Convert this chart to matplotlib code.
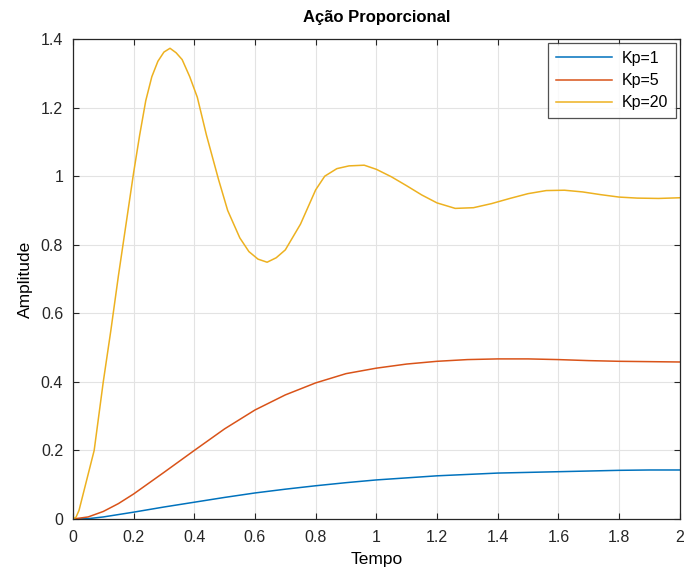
import matplotlib
matplotlib.use("Agg")
import matplotlib.pyplot as plt
from matplotlib.ticker import FuncFormatter

plt.rcParams["font.family"] = ["Liberation Sans", "DejaVu Sans"]

# step responses
t_kp1 = [0, 0.05, 0.1, 0.2, 0.3, 0.4, 0.5, 0.6, 0.7, 0.8, 0.9, 1.0,
         1.1, 1.2, 1.3, 1.4, 1.5, 1.6, 1.7, 1.8, 1.9, 2.0]
y_kp1 = [0, 0.001, 0.006, 0.02, 0.035, 0.049, 0.063, 0.076, 0.087, 0.097,
         0.106, 0.114, 0.12, 0.126, 0.13, 0.134, 0.136, 0.138, 0.14, 0.142,
         0.143, 0.143]

t_kp5 = [0, 0.05, 0.1, 0.15, 0.2, 0.3, 0.4, 0.5, 0.6, 0.7, 0.8, 0.9, 1.0,
         1.1, 1.2, 1.3, 1.4, 1.5, 1.6, 1.7, 1.8, 1.9, 2.0]
y_kp5 = [0, 0.006, 0.022, 0.045, 0.073, 0.136, 0.2, 0.263, 0.318, 0.362, 0.397,
         0.424, 0.44, 0.452, 0.46, 0.465, 0.467, 0.467, 0.465, 0.462, 0.46,
         0.459, 0.458]

t_kp20 = [0, 0.01, 0.02, 0.03, 0.05, 0.07, 0.10, 0.125, 0.15, 0.175, 0.20,
          0.22, 0.24, 0.26, 0.28, 0.30, 0.32, 0.34, 0.36, 0.385, 0.41, 0.44,
          0.48, 0.51, 0.55, 0.58, 0.61, 0.64, 0.67, 0.70, 0.75, 0.80, 0.83,
          0.87, 0.91, 0.96, 1.00, 1.05, 1.10, 1.15, 1.20, 1.26, 1.32, 1.38,
          1.44, 1.50, 1.56, 1.62, 1.68, 1.74, 1.80, 1.86, 1.93, 2.0]
y_kp20 = [0, 0.005, 0.025, 0.06, 0.13, 0.20, 0.40, 0.55, 0.71, 0.86, 1.01,
          1.12, 1.22, 1.29, 1.335, 1.362, 1.373, 1.36, 1.34, 1.29, 1.23, 1.12,
          0.99, 0.90, 0.82, 0.78, 0.758, 0.749, 0.762, 0.785, 0.86, 0.96, 1.0,
          1.022, 1.03, 1.032, 1.02, 0.998, 0.972, 0.945, 0.922, 0.906, 0.908,
          0.92, 0.935, 0.949, 0.958, 0.959, 0.954, 0.946, 0.939, 0.936, 0.935,
          0.937]

labels = ["Kp=1", "Kp=5", "Kp=20"]
colors = ["#0072BD", "#D95319", "#EDB120"]

fig = plt.figure(figsize=(6.88, 5.79), dpi=100)
ax = fig.add_axes([0.106, 0.1036, 0.882, 0.829])

for t, y, lab, c in zip([t_kp1, t_kp5, t_kp20], [y_kp1, y_kp5, y_kp20], labels, colors):
    ax.plot(t, y, color=c, lw=1.1, label=lab)

ax.set_xlim(0, 2)
ax.set_ylim(0, 1.4)
ax.set_xticks([i * 0.2 for i in range(11)])
ax.set_yticks([i * 0.2 for i in range(8)])
fmt = FuncFormatter(lambda v, p: f"{v:g}")
ax.xaxis.set_major_formatter(fmt)
ax.yaxis.set_major_formatter(fmt)
ax.grid(True, color="#e3e3e3", lw=0.8)
ax.set_axisbelow(True)
ax.tick_params(direction="in", top=True, right=True, length=4, width=0.8,
               colors="#262626", labelsize=11.5)
ax.tick_params(axis="x", pad=8)
ax.tick_params(axis="y", pad=7)
for s in ax.spines.values():
    s.set_color("#262626")
    s.set_linewidth(0.9)

ax.set_title("Ação Proporcional", fontsize=12, fontweight="bold", pad=12)
ax.set_xlabel("Tempo", fontsize=12.5, labelpad=5)
ax.set_ylabel("Amplitude", fontsize=12.5, labelpad=6)

leg = ax.legend(loc="upper right", fontsize=11.5, frameon=True, fancybox=False,
                edgecolor="#262626", handlelength=3.5, borderaxespad=0.25,
                labelspacing=0.45, borderpad=0.5, handletextpad=0.6)
leg.get_frame().set_linewidth(0.9)

fig.savefig("out.png", dpi=100, facecolor="white")
